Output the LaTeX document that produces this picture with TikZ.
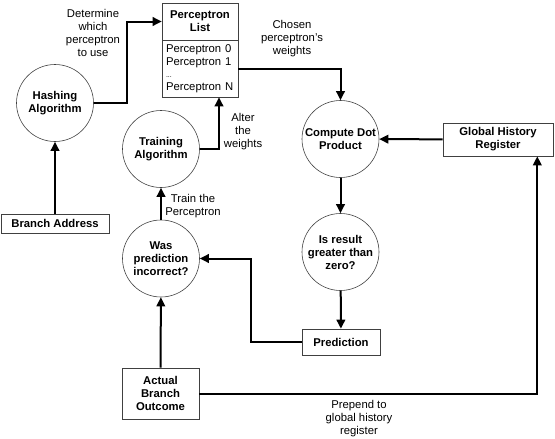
\documentclass[tikz,border=0pt]{standalone}
\usepackage{fontspec}
\setmainfont{Liberation Sans}
\usetikzlibrary{arrows.meta,positioning,shapes}
\tikzset{font=\fontsize{11.3}{13}\selectfont}
\tikzstyle{proc}=[circle,draw=black!75,line width=0.6pt,minimum size=77pt,inner sep=0pt,align=center,font=\fontsize{11.3}{13}\selectfont\bfseries]
\tikzstyle{store}=[rectangle,draw=black!75,line width=0.6pt,inner sep=0pt,align=center,font=\fontsize{11.3}{13}\selectfont\bfseries]
\tikzstyle{flow}=[line width=2pt,-{Triangle[length=9pt,width=8.5pt]}]

\begin{document}
\begin{tikzpicture}[x=1pt,y=-1pt]
\useasboundingbox (0,0) rectangle (555,439);
\node[proc] (hash) at (55,103) {Hashing\\Algorithm};
\node[store,minimum width=76pt,minimum height=37pt] (PLhead) at (200,21.5) {Perceptron\\List};
\node[store,minimum width=76pt,minimum height=57pt,text width=68pt,align=left,font=\fontsize{11.3}{12.5}\selectfont] (PLbody) at (200,68.5)
  {Perceptron 0\\Perceptron 1\\{\fontsize{7}{7}\selectfont ...}\\Perceptron N};
\node[proc] (train) at (161,149) {Training\\Algorithm};
\node[proc] (was) at (161,258.5) {Was\\prediction\\incorrect?};
\node[store,minimum width=108pt,minimum height=19pt] (addr) at (55,223.5) {Branch Address};
\node[store,minimum width=77pt,minimum height=51pt] (act) at (160.5,393.5) {Actual\\Branch\\Outcome};
\node[proc] (comp) at (340.5,139) {Compute Dot\\Product};
\node[proc] (isres) at (340.5,252) {Is result\\greater than\\zero?};
\node[store,minimum width=78pt,minimum height=26pt] (pred) at (341,342) {Prediction};
\node[store,minimum width=110pt,minimum height=33pt] (ghr) at (498,139.5) {Global History\\Register};
% labels
\node[align=center] (Ldet) at (93,33) {Determine\\which\\perceptron\\to use};
\node[align=center] (Lcho) at (292,39) {Chosen\\perceptron's\\weights};
\node[align=center] (Lalt) at (243,132) {Alter\\the\\weights};
\node[align=center] (Ltra) at (193,206.5) {Train the\\Perceptron};
\node[align=center] (Lpre) at (359,419) {Prepend to\\global history\\register};
\path[flow]
(addr) edge (hash)
(act) edge (was)
(was) edge (train)
(comp) edge (isres)
(isres) edge (pred)
(ghr) edge (comp);
\draw[flow] (hash.east) -- ++(33,0) |- (PLhead.west);
\draw[flow] (PLbody.east) -| (comp.north);
\draw[flow] (train.east) -| ([xshift=19pt]PLbody.south);
\draw[flow] (pred.west) -- ++(-51,0) |- (was.east);
\draw[flow] (act.east) -| ([xshift=-16pt]ghr.south east);
\end{tikzpicture}
\end{document}
